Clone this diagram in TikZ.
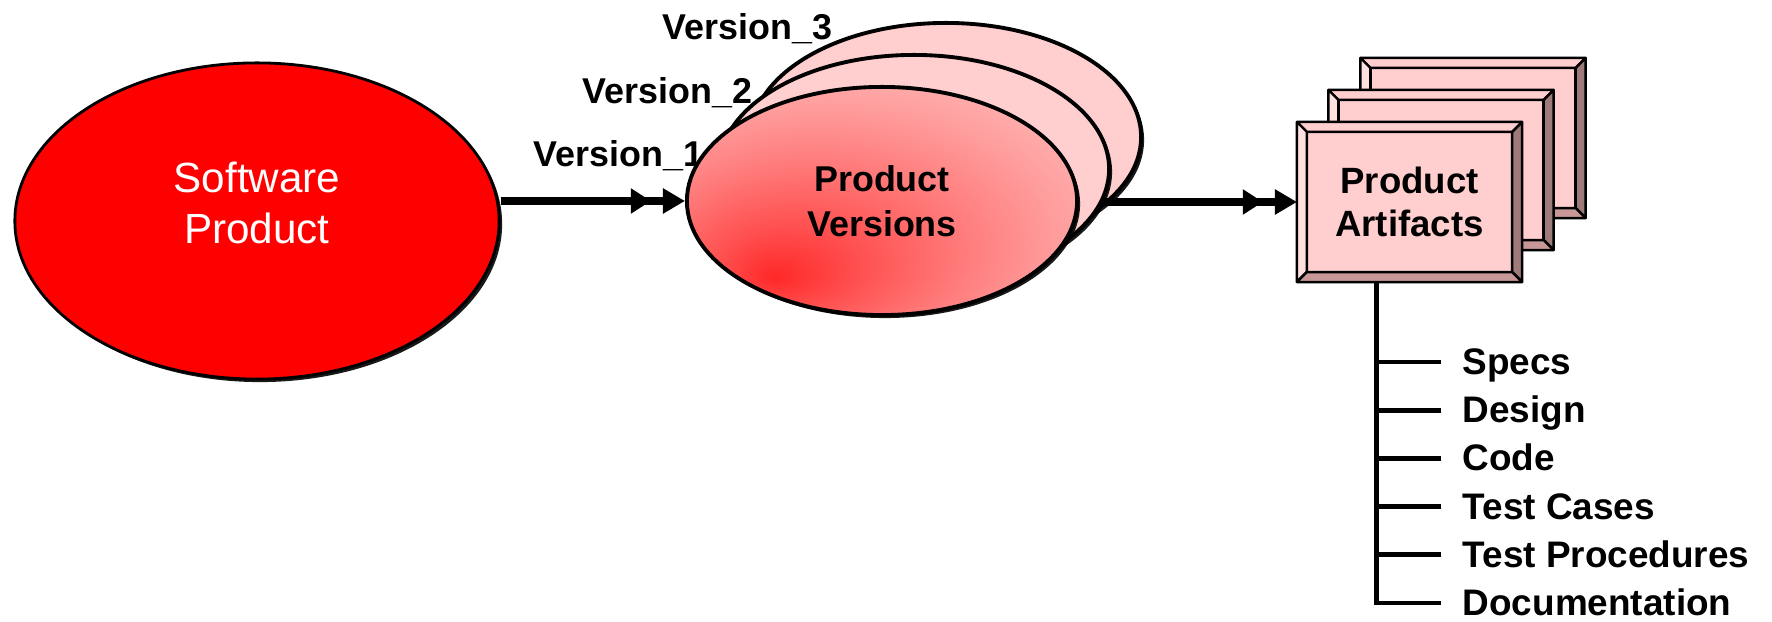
\documentclass[tikz,border=0pt]{standalone}
\usepackage{fontspec}
\setmainfont{Liberation Sans}
\usetikzlibrary{arrows.meta,shapes.geometric,shadows}
\definecolor{pinkface}{RGB}{255,206,206}
\definecolor{pinklight}{RGB}{255,224,224}
\definecolor{pinkdark}{RGB}{158,122,122}
\definecolor{pinkmid}{RGB}{200,152,152}
\definecolor{verred}{RGB}{255,40,40}
\definecolor{verred2}{RGB}{255,80,80}
\definecolor{vermid}{RGB}{255,120,120}
\definecolor{verlight}{RGB}{255,155,155}
\definecolor{verpale}{RGB}{255,185,185}
\pgfdeclareradialshading{verfade}{\pgfpoint{-14bp}{-17bp}}{color(0bp)=(verred); color(9bp)=(verred2); color(19bp)=(vermid); color(29bp)=(verlight); color(39bp)=(verpale); color(50bp)=(pinkface); color(60bp)=(pinkface)}
\tikzstyle{lbl} = [font=\fontsize{10.2}{12.5}\selectfont\bfseries, text height=0.25cm, text depth=0pt, inner sep=0pt, anchor=west]
\tikzstyle{item} = [lbl, font=\fontsize{10.5}{12.5}\selectfont\bfseries, inner xsep=0.21cm]
\tikzstyle{tree} = [line width=1.4pt]
\tikzstyle{link} = [line width=2.1pt, -{Triangle[length=0.2cm,width=0.24cm,sep=0.12cm] Triangle[length=0.22cm,width=0.24cm]}]
\tikzstyle{shad} = [drop shadow={shadow xshift=0.03cm, shadow yshift=-0.03cm, fill=black, opacity=0.9}]
\tikzstyle{sprod} = [ellipse, draw, line width=0.8pt, fill=red, shad, minimum width=4.84cm, minimum height=3.16cm, inner sep=0pt]
\tikzstyle{sptext} = [align=center, text=white, inner sep=0pt, yshift=0.18cm, font=\fontsize{12}{14.5}\selectfont]
\tikzstyle{version} = [ellipse, draw, line width=1.1pt, fill=pinkface, shad, minimum width=3.9cm, minimum height=2.28cm, inner sep=0pt, align=center, font=\fontsize{10.2}{12.8}\selectfont\bfseries]
\tikzstyle{front} = [shading=verfade]
\tikzstyle{abox} = [draw, line width=0.7pt, fill=pinkface, minimum width=2.05cm, minimum height=1.4cm, inner sep=0pt, outer sep=0.1cm, align=center, font=\fontsize{10.4}{12.2}\selectfont\bfseries]
\tikzstyle{bevel} = [draw, line width=0.7pt, line join=round]

% framed box with bevelled edges
\newcommand{\artbox}[3]{%
  \node[abox] (#1) at #2 {#3};
  \path[bevel, fill=pinkface] (#1.north west) -- (#1.north east) -- ([shift={(-10,10)}]#1.north east) -- ([shift={(10,10)}]#1.north west) -- cycle;
  \path[bevel, fill=pinklight] (#1.north west) -- (#1.south west) -- ([shift={(10,-10)}]#1.south west) -- ([shift={(10,10)}]#1.north west) -- cycle;
  \path[bevel, fill=pinkdark] (#1.north east) -- (#1.south east) -- ([shift={(-10,-10)}]#1.south east) -- ([shift={(-10,10)}]#1.north east) -- cycle;
  \path[bevel, fill=pinkmid] (#1.south west) -- (#1.south east) -- ([shift={(-10,-10)}]#1.south east) -- ([shift={(10,-10)}]#1.south west) -- cycle;
}

\begin{document}
\begin{tikzpicture}[x=0.01cm, y=-0.01cm]
  \useasboundingbox (0,0) rectangle (1772,622);

  % source product
  \node[sprod, label={[sptext]center:{Software\\Product}}] (sp) at (257,221) {};

  % versions
  \node[lbl] (v1) at (533,154.5) {Version\_1};
  \node[lbl] (v2) at (582,91) {Version\_2};
  \node[lbl] (v3) at (662,27.5) {Version\_3};
  \node[version] (pv3) at (946,137) {};
  \node[version] (pv2) at (914,169) {};
  \node[version, front] (pv1) at (882,201) {Product\\Versions};

  % artifacts
  \artbox{pa3}{(1473,138)}{}
  \artbox{pa2}{(1441,170)}{}
  \artbox{pa1}{(1409.5,202)}{Product\\Artifacts}

  \draw[link] (sp.east |- pv1.west) -- (pv1.west);
  \draw[link] (pv2.-9 |- pa1.west) -- (pa1.west);

  % artifact list
  \coordinate (st) at ([shift={(-33,0)}]pa1.south);
  \foreach \name [count=\i from 0] in {Specs,Design,Code,Test Cases,Test Procedures,Documentation}
    \node[item] (it\i) at (1441, 362+48.2*\i) {\name};
  \foreach \i in {0,...,4}
    \draw[tree] (st |- it\i.west) -- (it\i.west);
  \draw[tree] (st) -- (st |- it5.west) -- (it5.west);
\end{tikzpicture}
\end{document}
